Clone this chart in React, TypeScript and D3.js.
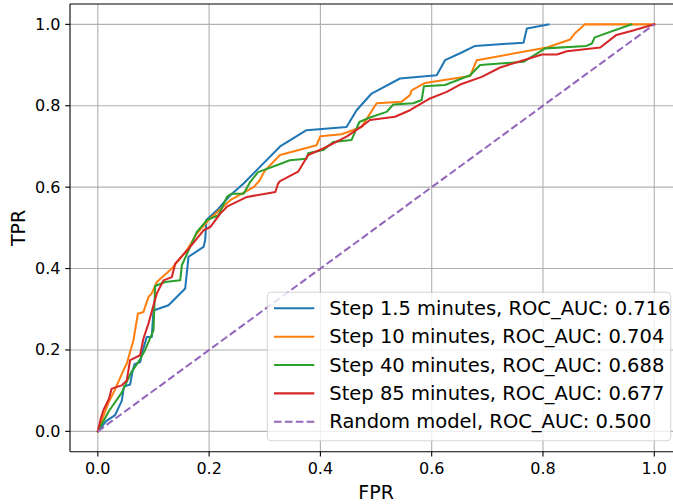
import React from "react";
import * as d3 from "d3";

const xTicks = [0, 0.2, 0.4, 0.6, 0.8, 1.0];
const yTicks = [0, 0.2, 0.4, 0.6, 0.8, 1.0];

const blueX = [0, 0.015, 0.031, 0.043, 0.047, 0.058, 0.062, 0.066, 0.076, 0.08, 0.088, 0.097, 0.10, 0.127, 0.157, 0.163, 0.19, 0.193, 0.195, 0.214, 0.238, 0.262, 0.29, 0.3275, 0.375, 0.447, 0.465, 0.492, 0.543, 0.609, 0.624, 0.651, 0.678, 0.765, 0.771, 0.81];
const blueY = [0, 0.025, 0.04, 0.075, 0.11, 0.115, 0.145, 0.165, 0.17, 0.195, 0.232, 0.232, 0.297, 0.31, 0.351, 0.429, 0.453, 0.47, 0.519, 0.543, 0.58, 0.609, 0.648, 0.70, 0.74, 0.748, 0.789, 0.83, 0.867, 0.875, 0.912, 0.929, 0.947, 0.955, 0.99, 1.0];

const orangeX = [0, 0.008, 0.019, 0.03, 0.046, 0.052, 0.064, 0.072, 0.082, 0.085, 0.091, 0.097, 0.106, 0.133, 0.16, 0.178, 0.199, 0.238, 0.28, 0.29, 0.30, 0.3275, 0.393, 0.40, 0.438, 0.474, 0.501, 0.546, 0.561, 0.564, 0.588, 0.669, 0.681, 0.807, 0.849, 0.858, 0.872, 0.875, 1.0];
const orangeY = [0, 0.03, 0.07, 0.10, 0.15, 0.166, 0.224, 0.289, 0.293, 0.306, 0.33, 0.339, 0.367, 0.40, 0.445, 0.486, 0.519, 0.568, 0.60, 0.615, 0.64, 0.679, 0.703, 0.725, 0.73, 0.748, 0.806, 0.81, 0.826, 0.838, 0.856, 0.873, 0.912, 0.943, 0.963, 0.979, 0.996, 1.0, 1.0];

const greenX = [0, 0.02, 0.043, 0.06, 0.075, 0.085, 0.10, 0.103, 0.121, 0.148, 0.151, 0.178, 0.196, 0.217, 0.232, 0.241, 0.262, 0.274, 0.288, 0.3275, 0.345, 0.375, 0.378, 0.405, 0.423, 0.456, 0.47, 0.489, 0.519, 0.531, 0.567, 0.582, 0.586, 0.624, 0.669, 0.687, 0.765, 0.804, 0.878, 0.888, 0.893, 0.959];
const greenY = [0, 0.05, 0.095, 0.145, 0.175, 0.2, 0.248, 0.357, 0.367, 0.371, 0.408, 0.49, 0.519, 0.531, 0.576, 0.584, 0.584, 0.613, 0.637, 0.657, 0.666, 0.67, 0.683, 0.691, 0.711, 0.716, 0.76, 0.771, 0.785, 0.803, 0.806, 0.814, 0.848, 0.851, 0.875, 0.90, 0.908, 0.941, 0.947, 0.953, 0.968, 1.0];

const redX = [0, 0.005, 0.01, 0.02, 0.025, 0.043, 0.052, 0.058, 0.076, 0.082, 0.091, 0.106, 0.118, 0.133, 0.139, 0.166, 0.19, 0.202, 0.22, 0.232, 0.268, 0.319, 0.324, 0.3275, 0.36, 0.378, 0.405, 0.447, 0.477, 0.489, 0.534, 0.561, 0.597, 0.627, 0.651, 0.69, 0.723, 0.765, 0.798, 0.825, 0.843, 0.903, 0.932, 0.962, 1.0];
const redY = [0, 0.03, 0.052, 0.08, 0.105, 0.113, 0.125, 0.175, 0.187, 0.228, 0.265, 0.339, 0.371, 0.379, 0.412, 0.453, 0.494, 0.502, 0.535, 0.552, 0.576, 0.588, 0.609, 0.615, 0.638, 0.679, 0.695, 0.724, 0.752, 0.765, 0.773, 0.789, 0.818, 0.834, 0.852, 0.871, 0.894, 0.912, 0.926, 0.926, 0.934, 0.943, 0.974, 0.985, 1.0];

const randomX = [0, 1];
const randomY = [0, 1];

const seriesNames = [
  "Step 1.5 minutes, ROC_AUC: 0.716",
  "Step 10 minutes, ROC_AUC: 0.704",
  "Step 40 minutes, ROC_AUC: 0.688",
  "Step 85 minutes, ROC_AUC: 0.677",
  "Random model, ROC_AUC: 0.500",
];
const colors = ["#1f77b4", "#ff7f0e", "#2ca02c", "#d62728", "#9467bd"];

const W = 673;
const H = 504;
const left = 70;
const right = 682.1;
const top = 4;
const bottom = 451.7;
const FONT = "DejaVu Sans, sans-serif";

export default function App() {
  const x = d3.scaleLinear().domain([-0.05, 1.05]).range([left, right]);
  const y = d3.scaleLinear().domain([-0.05, 1.05]).range([bottom, top]);
  const line = d3
    .line<[number, number]>()
    .x((d) => x(d[0]))
    .y((d) => y(d[1]));

  const series: [number[], number[]][] = [
    [blueX, blueY],
    [orangeX, orangeY],
    [greenX, greenY],
    [redX, redY],
    [randomX, randomY],
  ];

  const legX = 267.3;
  const legY = 292.3;
  const legW = 403.4;
  const legH = 148.4;
  const rowStart = 308.3;
  const rowStep = 28.35;

  return (
    <svg
      width={W}
      height={H}
      style={{ position: "absolute", left: 0, top: 0, background: "#fff" }}
    >
      <rect x={0} y={0} width={W} height={H} fill="#fff" />
      {/* grid */}
      {xTicks.map((t) => (
        <line key={"gx" + t} x1={x(t)} x2={x(t)} y1={top} y2={bottom} stroke="#b0b0b0" strokeWidth={1.1} />
      ))}
      {yTicks.map((t) => (
        <line key={"gy" + t} x1={left} x2={right} y1={y(t)} y2={y(t)} stroke="#b0b0b0" strokeWidth={1.1} />
      ))}
      {/* series */}
      {series.map(([xs, ys], i) => (
        <path
          key={"s" + i}
          d={line(xs.map((v, j) => [v, ys[j]] as [number, number])) || ""}
          fill="none"
          stroke={colors[i]}
          strokeWidth={2.05}
          strokeDasharray={i === 4 ? "7.6,3.3" : undefined}
          strokeLinejoin="round"
          strokeLinecap={i === 4 ? "butt" : "square"}
        />
      ))}
      {/* spines */}
      <line x1={left} x2={left} y1={top} y2={bottom} stroke="#000" strokeWidth={1.1} />
      <line x1={left} x2={right} y1={bottom} y2={bottom} stroke="#000" strokeWidth={1.1} />
      <line x1={left} x2={right} y1={top} y2={top} stroke="#000" strokeWidth={1.1} />
      {/* ticks */}
      {xTicks.map((t) => (
        <g key={"tx" + t}>
          <line x1={x(t)} x2={x(t)} y1={bottom} y2={bottom + 4.8} stroke="#000" strokeWidth={1.1} />
          <text x={x(t)} y={bottom + 16.5} textAnchor="middle" dominantBaseline="central" fontFamily={FONT} fontSize={16} fill="#000">
            {t.toFixed(1)}
          </text>
        </g>
      ))}
      {yTicks.map((t) => (
        <g key={"ty" + t}>
          <line x1={left - 4.8} x2={left} y1={y(t)} y2={y(t)} stroke="#000" strokeWidth={1.1} />
          <text x={left - 9.5} y={y(t)} textAnchor="end" dominantBaseline="central" fontFamily={FONT} fontSize={16} fill="#000">
            {t.toFixed(1)}
          </text>
        </g>
      ))}
      {/* axis labels */}
      <text x={(left + right) / 2} y={492} textAnchor="middle" dominantBaseline="central" fontFamily={FONT} fontSize={19} fill="#000">
        FPR
      </text>
      <text
        x={18.5}
        y={(top + bottom) / 2}
        textAnchor="middle"
        dominantBaseline="central"
        fontFamily={FONT}
        fontSize={19}
        fill="#000"
        transform={`rotate(-90, 18.5, ${(top + bottom) / 2})`}
      >
        TPR
      </text>
      {/* legend */}
      <rect x={legX} y={legY} width={legW} height={legH} rx={4} ry={4} fill="#fff" fillOpacity={0.8} stroke="#cccccc" strokeOpacity={0.8} strokeWidth={1.1} />
      {seriesNames.map((name, i) => {
        const cy = rowStart + i * rowStep;
        return (
          <g key={"l" + i}>
            <line
              x1={274}
              x2={314.3}
              y1={cy}
              y2={cy}
              stroke={colors[i]}
              strokeWidth={2.05}
              strokeDasharray={i === 4 ? "7.6,3.3" : undefined}
            />
            <text x={329.3} y={cy} dominantBaseline="central" fontFamily={FONT} fontSize={19.5} fill="#000">
              {name}
            </text>
          </g>
        );
      })}
    </svg>
  );
}
